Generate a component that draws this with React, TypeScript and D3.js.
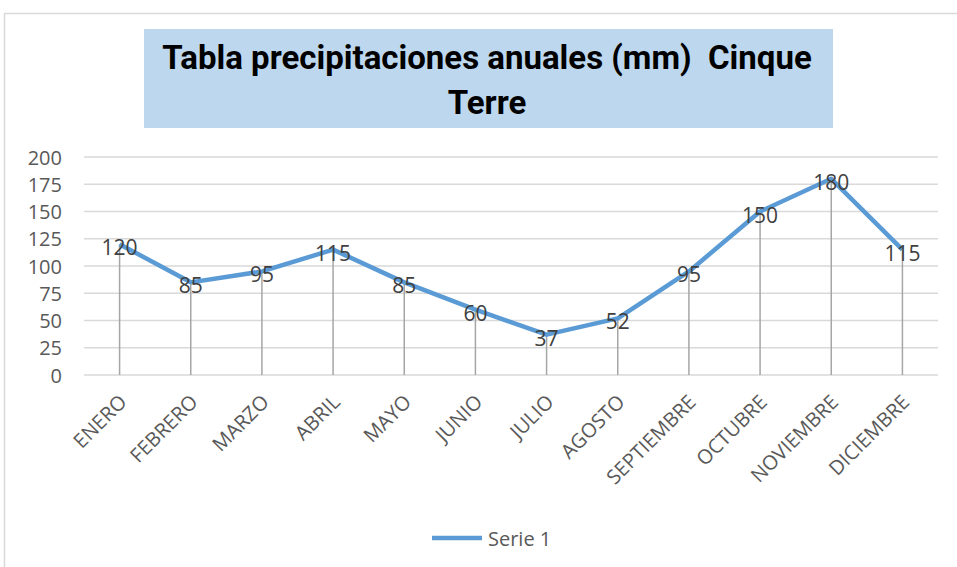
import React, { useRef, useEffect } from 'react';
import * as d3 from 'd3';

const months = ['ENERO', 'FEBRERO', 'MARZO', 'ABRIL', 'MAYO', 'JUNIO', 'JULIO', 'AGOSTO', 'SEPTIEMBRE', 'OCTUBRE', 'NOVIEMBRE', 'DICIEMBRE'];
const rainfall = [120, 85, 95, 115, 85, 60, 37, 52, 95, 150, 180, 115];
const yTicks = [0, 25, 50, 75, 100, 125, 150, 175, 200];
const titleLines = ['Tabla precipitaciones anuales (mm)  Cinque', 'Terre'];
const seriesName = 'Serie 1';

const width = 957;
const height = 567;

const App: React.FC = () => {
  const svgRef = useRef<SVGSVGElement>(null);

  useEffect(() => {
    if (!svgRef.current) return;
    const svg = d3.select(svgRef.current);
    svg.selectAll('*').remove();

    const font = "'Open Sans', 'Liberation Sans', sans-serif";

    // chart area border (only top and left visible)
    svg.append('path')
      .attr('d', `M4.5,${height} L4.5,13.5 L${width},13.5`)
      .attr('fill', 'none')
      .attr('stroke', '#d9d9d9')
      .attr('stroke-width', 1.5);

    // title box
    svg.append('rect')
      .attr('x', 144).attr('y', 29)
      .attr('width', 689).attr('height', 99)
      .attr('fill', '#bdd7ee');

    titleLines.forEach((line, i) => {
      svg.append('text')
        .attr('x', 487)
        .attr('y', 69 + i * 45)
        .attr('text-anchor', 'middle')
        .style('font-family', "'Roboto', sans-serif")
        .style('font-weight', 'bold')
        .style('font-size', '33px')
        .style('white-space', 'pre')
        .style('fill', '#000')
        .text(line);
    });

    const x = d3.scaleBand<string>().domain(months).range([84, 938]);
    const y = d3.scaleLinear().domain([0, 200]).range([375, 157]);
    const cx = (m: string) => (x(m) ?? 0) + x.bandwidth() / 2;

    // gridlines
    svg.append('g')
      .selectAll('line')
      .data(yTicks)
      .enter()
      .append('line')
      .attr('x1', 84).attr('x2', 938)
      .attr('y1', d => y(d)).attr('y2', d => y(d))
      .attr('stroke', '#d9d9d9')
      .attr('stroke-width', 1.5);

    // y labels
    svg.append('g')
      .selectAll('text')
      .data(yTicks)
      .enter()
      .append('text')
      .attr('x', 62)
      .attr('y', d => y(d))
      .attr('text-anchor', 'end')
      .attr('dominant-baseline', 'central')
      .style('font-family', font)
      .style('font-size', '20px')
      .style('fill', '#595959')
      .text(d => d);

    // drop lines
    svg.append('g')
      .selectAll('line')
      .data(months)
      .enter()
      .append('line')
      .attr('x1', d => cx(d)).attr('x2', d => cx(d))
      .attr('y1', (d, i) => y(rainfall[i])).attr('y2', y(0))
      .attr('stroke', '#a6a6a6')
      .attr('stroke-width', 1.5);

    // series line
    const line = d3.line<number>()
      .x((d, i) => cx(months[i]))
      .y(d => y(d));
    svg.append('path')
      .datum(rainfall)
      .attr('d', line)
      .attr('fill', 'none')
      .attr('stroke', '#5b9bd5')
      .attr('stroke-width', 4.5)
      .attr('stroke-linejoin', 'round');

    // data labels
    svg.append('g')
      .selectAll('text')
      .data(rainfall)
      .enter()
      .append('text')
      .attr('x', (d, i) => cx(months[i]))
      .attr('y', d => y(d) + 3)
      .attr('text-anchor', 'middle')
      .attr('dominant-baseline', 'central')
      .style('font-family', font)
      .style('font-size', '21px')
      .style('fill', '#404040')
      .text(d => d);

    // x labels
    svg.append('g')
      .selectAll('text')
      .data(months)
      .enter()
      .append('text')
      .attr('transform', d => `translate(${cx(d) + 3},${398}) rotate(-45)`)
      .attr('text-anchor', 'end')
      .attr('dominant-baseline', 'central')
      .style('font-family', font)
      .style('font-size', '20px')
      .style('fill', '#595959')
      .text(d => d);

    // legend
    svg.append('line')
      .attr('x1', 432).attr('x2', 482)
      .attr('y1', 538).attr('y2', 538)
      .attr('stroke', '#5b9bd5')
      .attr('stroke-width', 4.5);
    svg.append('text')
      .attr('x', 488).attr('y', 538)
      .attr('dominant-baseline', 'central')
      .style('font-family', font)
      .style('font-size', '20px')
      .style('fill', '#595959')
      .text(seriesName);
  }, []);

  return (
    <svg
      ref={svgRef}
      width={width}
      height={height}
      style={{ position: 'absolute', top: 0, left: 0, background: '#fff' }}
    />
  );
};

export default App;
